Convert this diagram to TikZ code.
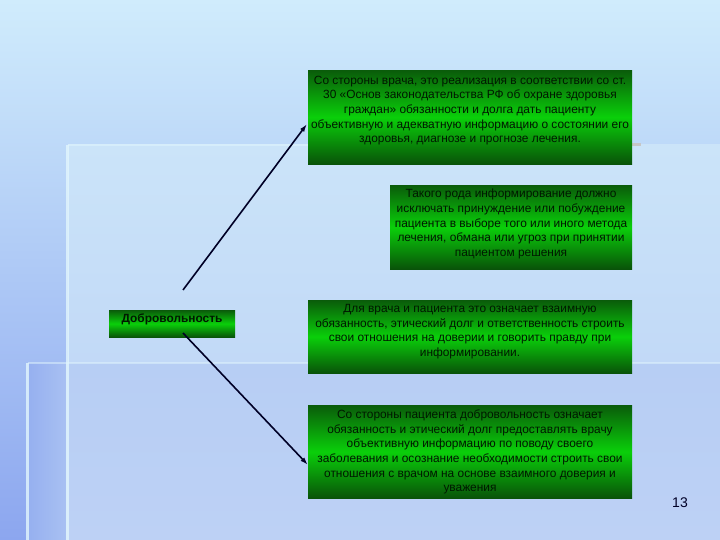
\documentclass[tikz,border=0pt]{standalone}
\usepackage{fontspec}
\setmainfont{Liberation Sans}
\usetikzlibrary{arrows.meta}
\definecolor{gdark}{HTML}{0A5C0A}
\definecolor{gbright}{HTML}{0ACF0A}
\tikzset{
  greenbox/.style={draw=none, rectangle, inner sep=0pt, anchor=north west,
    top color=gdark, bottom color=gdark!90!black, middle color=gbright},
  boxtext/.style={anchor=north, align=center, inner sep=0pt, text=black!90!green,
    font=\fontsize{11.9}{14.7}\selectfont},
  conn/.style={-{Latex[length=8pt,width=5pt]}, line width=1.6pt, draw=black!85!blue},
  deco/.style={line width=3pt, draw=white!55!cyan!25!white, opacity=0.8}
}
\begin{document}
\begin{tikzpicture}[x=1pt,y=-1pt]
\useasboundingbox (0,0) rectangle (720,540);
% background
\shade[top color={rgb,255:red,208;green,236;blue,252}, bottom color={rgb,255:red,140;green,166;blue,239}] (0,0) rectangle (720,540);
\shade[top color={rgb,255:red,203;green,228;blue,249}, bottom color={rgb,255:red,186;green,208;blue,245}] (68,145) rectangle (720,540);
\shade[top color={rgb,255:red,183;green,206;blue,244}, bottom color={rgb,255:red,189;green,209;blue,245}] (28,363) rectangle (720,540);
\shade[left color={rgb,255:red,150;green,176;blue,240}, right color={rgb,255:red,168;green,192;blue,242}] (28,363) rectangle (66,540);
\draw[deco] (67,145) -- (67,540);
\draw[deco, line width=2pt, opacity=0.5] (68,145) -- (632,145);
\draw[line width=3pt, draw=gray!45] (632,145) -- (641,145);
\draw[deco] (27,363) -- (27,540);
\draw[deco, line width=2pt, opacity=0.5] (28,363) -- (720,363);
% boxes
\node[greenbox, minimum width=324pt, minimum height=94pt] (b1) at (308,70) {};
\node[boxtext] (t1) at (470,75.5) {Со стороны врача, это реализация в соответствии со ст.\\30 «Основ законодательства РФ об охране здоровья\\граждан» обязанности и долга дать пациенту\\объективную и адекватную информацию о состоянии его\\здоровья, диагнозе и прогнозе лечения.};
\node[greenbox, minimum width=242pt, minimum height=84pt] (b2) at (390,185) {};
\node[boxtext] (t2) at (511,189) {Такого рода информирование должно\\исключать принуждение или побуждение\\пациента в выборе того или иного метода\\лечения, обмана или угроз при принятии\\пациентом решения};
\node[greenbox, minimum width=324pt, minimum height=73pt] (b3) at (308,300) {};
\node[boxtext] (t3) at (470,304) {Для врача и пациента это означает взаимную\\обязанность, этический долг и ответственность строить\\свои отношения на доверии и говорить правду при\\информировании.};
\node[greenbox, minimum width=324pt, minimum height=93pt] (b4) at (308,405) {};
\node[boxtext] (t4) at (470,409.5) {Со стороны пациента добровольность означает\\обязанность и этический долг предоставлять врачу\\объективную информацию по поводу своего\\заболевания и осознание необходимости строить свои\\отношения с врачом на основе взаимного доверия и\\уважения};
\node[greenbox, minimum width=126pt, minimum height=27pt] (d) at (109,310) {};
\node[boxtext, font=\bfseries\fontsize{11.9}{13}\selectfont] (dt) at (172,314) {Добровольность};
% connectors
\coordinate (s1) at (183,290);
\coordinate (s2) at (183,333);
\coordinate (e1) at (307,124);
\coordinate (e2) at (308,465);
\draw[conn] (s1) -- (e1);
\draw[conn] (s2) -- (e2);
\node[font=\fontsize{14}{16}\selectfont, text=black!85!blue] (num) at (680,503) {13};
\end{tikzpicture}
\end{document}
